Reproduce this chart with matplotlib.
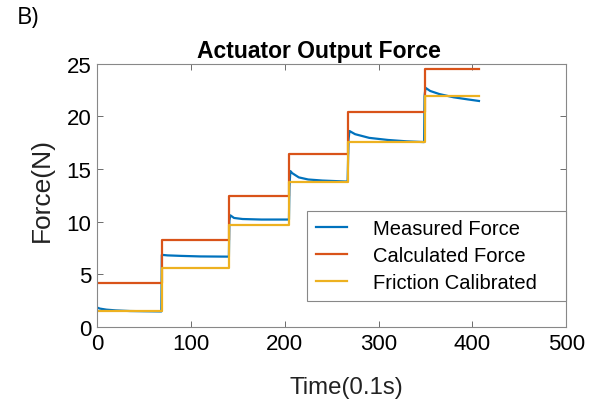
import matplotlib
matplotlib.use("Agg")
import matplotlib.pyplot as plt

# step levels (time in 0.1 s units)
step_t = [0, 69, 141, 205, 267.5, 349, 407]
calc_force = [4.2, 8.3, 12.4, 16.4, 20.4, 24.5, 24.5]
fric_force = [1.5, 5.6, 9.7, 13.8, 17.6, 21.9, 21.9]

# measured force
meas_t = [0, 3, 10, 20, 35, 50, 68.5,
          69, 75, 90, 110, 140.5,
          141, 142, 146, 155, 175, 204.5,
          205, 206, 208, 215, 225, 240, 267,
          268, 269, 275, 290, 310, 330, 348.5,
          349, 350, 355, 365, 380, 395, 407]
meas_f = [1.85, 1.75, 1.65, 1.58, 1.52, 1.50, 1.48,
          6.85, 6.80, 6.75, 6.70, 6.68,
          10.10, 10.60, 10.35, 10.25, 10.20, 10.20,
          13.30, 14.80, 14.60, 14.20, 14.00, 13.90, 13.80,
          17.80, 18.60, 18.30, 17.95, 17.75, 17.62, 17.55,
          21.90, 22.70, 22.40, 22.10, 21.80, 21.60, 21.45]

BLUE, RED, YEL = "#0072BD", "#D95319", "#EDB120"

plt.rcParams["font.family"] = ["Liberation Sans", "DejaVu Sans"]

fig = plt.figure(figsize=(6.03, 4.06), dpi=100)
ax = fig.add_axes([0.161, 0.192, 0.778, 0.649])

ax.plot(meas_t, meas_f, color=BLUE, lw=1.6, label="Measured Force")
ax.plot(step_t, calc_force, color=RED, lw=1.6, drawstyle="steps-post",
        label="Calculated Force")
ax.plot(step_t, fric_force, color=YEL, lw=1.6, drawstyle="steps-post",
        label="Friction Calibrated")

ax.set_xlim(0, 500)
ax.set_ylim(0, 25)
ax.set_xticks([0, 100, 200, 300, 400, 500])
ax.set_yticks([0, 5, 10, 15, 20, 25])
ax.tick_params(direction="in", top=True, right=True, length=4,
               width=0.6, color="#555555", labelsize=16, pad=4)
for s in ax.spines.values():
    s.set_color("#888888")
    s.set_linewidth(0.8)

ax.set_title("Actuator Output Force", fontsize=16.5, fontweight="bold",
             pad=5, x=0.473)
ax.set_xlabel("Time(0.1s)", fontsize=17.3, color="#222222")
ax.xaxis.set_label_coords(0.531, -0.185)
ax.set_ylabel("Force(N)", fontsize=19, color="#222222")
ax.yaxis.set_label_coords(-0.092, 0.524)

leg = ax.legend(loc="lower left", bbox_to_anchor=(0.448, 0.1, 0.552, 0.34),
                mode="expand", borderaxespad=0, fontsize=14.5,
                handlelength=1.55, handletextpad=1.3, labelspacing=0.4,
                borderpad=0.42, fancybox=False, edgecolor="#888888",
                framealpha=1)
leg.get_frame().set_linewidth(0.8)

fig.text(0.028, 0.955, "B)", fontsize=17, family="Open Sans", va="center")

fig.savefig("out.png", dpi=100)
